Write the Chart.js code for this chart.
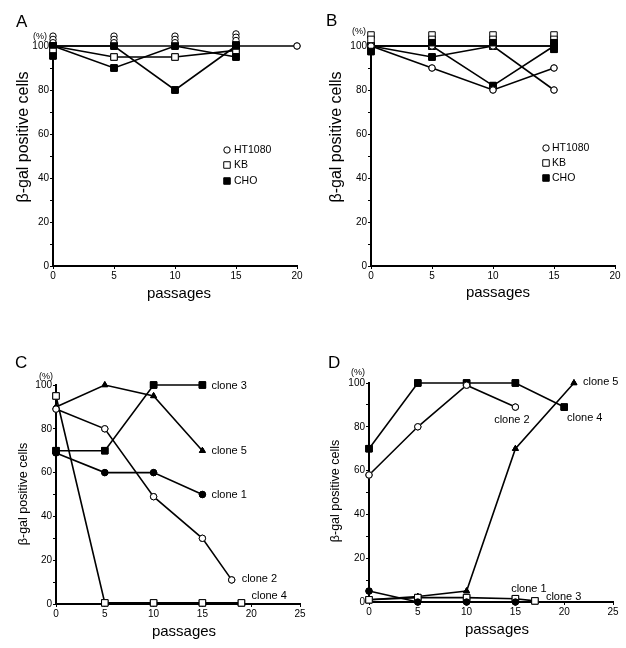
<!DOCTYPE html>
<html><head><meta charset="utf-8">
<script src="https://cdn.jsdelivr.net/npm/chart.js@4.4.1/dist/chart.umd.min.js"></script>
<style>
html,body{margin:0;padding:0;background:#fff;}
#wrap{position:relative;width:626px;height:648px;overflow:hidden;background:#fff;}
canvas{position:absolute;}
</style></head><body>
<div id="wrap">
<canvas id="cA" width="313" height="310" style="left:0;top:0"></canvas>
<canvas id="cB" width="313" height="310" style="left:313px;top:0"></canvas>
<canvas id="cC" width="313" height="328" style="left:0;top:320px"></canvas>
<canvas id="cD" width="313" height="328" style="left:313px;top:320px"></canvas>
</div>
<script>
const FONT = '"Liberation Sans", Arial, Helvetica, sans-serif';

// ---------- Panel A data ----------
const passagesA = [0, 5, 10, 15];
const aHT1080_x = [0, 5, 10, 15, 20];
const aHT1080_y = [100, 100, 100, 100, 100];
const aKB_y = [100, 95, 95, 98];
const aCHO1_y = [100, 90, 100, 95];
const aCHO2_y = [100, 100, 80, 100];
const aHT1080_reps = [[104.5, 103, 101.5], [104.5, 103, 101.5], [104.5, 103, 101.5], [105.5, 104, 102.5]];
const aKB_reps = [[97.5], [], [], []];
const aCHO_reps = [[95.5], [], [], [100.5]];

// ---------- Panel B data ----------
const passagesB = [0, 5, 10, 15];
const bKB_y = [100, 100, 100, 100];
const bHT1_y = [100, 90, 80, 90];
const bHT2_y = [100, 100, 100, 80];
const bCHO1_y = [100, 95, 100, 100];
const bCHO2_y = [100, 100, 82, 100];
const bKB_reps = [[105, 103], [105, 103], [105, 103], [105, 103]];
const bCHO_reps = [[97.5], [101.5], [101.5], [101.5, 98.5]];

// ---------- Panel C data ----------
const cClone1_x = [0, 5, 10, 15];       const cClone1_y = [69, 60, 60, 50];
const cClone2_x = [0, 5, 10, 15, 18];   const cClone2_y = [89, 80, 49, 30, 11];
const cClone3_x = [0, 5, 10, 15];       const cClone3_y = [70, 70, 100, 100];
const cClone4_x = [0, 5, 10, 15, 19];   const cClone4_y = [95, 0.5, 0.5, 0.5, 0.5];
const cClone5_x = [0, 5, 10, 15];       const cClone5_y = [90, 100, 95, 70];

// ---------- Panel D data ----------
const dClone1_x = [0, 5, 10, 15];       const dClone1_y = [5, 0, 0, 0];
const dClone2_x = [0, 5, 10, 15];       const dClone2_y = [58, 80, 99, 89];
const dClone3_x = [0, 5, 10, 15, 17];   const dClone3_y = [1, 2, 2, 1.5, 0.5];
const dClone4_x = [0, 5, 10, 15, 20];   const dClone4_y = [70, 100, 100, 100, 89];
const dClone5_x = [0, 5, 10, 15, 21];   const dClone5_y = [1, 2.5, 5, 70, 100];

// ---------- tick labels ----------
const yTickLabels = [0, 20, 40, 60, 80, 100];
const xTicksAB = [0, 5, 10, 15, 20];
const xTicksCD = [0, 5, 10, 15, 20, 25];

function pts(xs, ys) { return xs.map((x, i) => ({ x: x, y: ys[i] })); }
function repPts(xs, reps) {
  const out = [];
  xs.forEach((x, i) => reps[i].forEach(v => out.push({ x: x, y: v })));
  return out;
}

const STY = {
  openCircle: { pointStyle: 'circle', pointRadius: 3.2, pointBackgroundColor: '#fff' },
  filledCircle: { pointStyle: 'circle', pointRadius: 3.2, pointBackgroundColor: '#000' },
  openSquare: { pointStyle: 'rect', pointRadius: 4.6, pointBackgroundColor: '#fff' },
  filledSquare: { pointStyle: 'rect', pointRadius: 4.6, pointBackgroundColor: '#000' },
  filledTri: { pointStyle: 'triangle', pointRadius: 3.4, pointBackgroundColor: '#000' }
};

function ds(data, sty, line) {
  return Object.assign({
    data: data, showLine: line, borderColor: '#000', borderWidth: 1.6,
    pointBorderColor: '#000', pointBorderWidth: 1, clip: false, tension: 0
  }, sty);
}

// redraw every point without the chart-area cut-off so that stacked replicate
// markers above 100 % stay visible; markers end up on top of the lines
const markerPlugin = {
  id: 'markersOnTop',
  afterDatasetsDraw(chart) {
    const big = { left: -1e5, top: -1e5, right: 1e5, bottom: 1e5 };
    const ctx = chart.ctx;
    for (let i = chart.data.datasets.length - 1; i >= 0; i--) {
      const meta = chart.getDatasetMeta(i);
      meta.data.forEach(el => el.draw(ctx, big));
    }
  }
};

const textPlugin = {
  id: 'panelText',
  afterDraw(chart, args, o) {
    const ctx = chart.ctx;
    const xs = chart.scales.x, ys = chart.scales.y;
    ctx.save();
    ctx.fillStyle = '#000';
    ctx.strokeStyle = '#000';
    ctx.font = o.letterSize + 'px ' + FONT;
    ctx.textAlign = 'left'; ctx.textBaseline = 'alphabetic';
    ctx.fillText(o.letter, o.letterPos[0], o.letterPos[1]);
    ctx.font = '9px ' + FONT;
    ctx.textBaseline = 'middle';
    ctx.fillText('(%)', o.pctPos[0], o.pctPos[1]);
    ctx.font = o.xTitleSize + 'px ' + FONT;
    ctx.textAlign = 'center';
    ctx.fillText('passages', o.xTitlePos[0], o.xTitlePos[1]);
    ctx.save();
    ctx.translate(o.yTitlePos[0], o.yTitlePos[1]);
    ctx.rotate(-Math.PI / 2);
    ctx.font = o.yTitleSize + 'px ' + FONT;
    ctx.fillText('\u03b2-gal positive cells', 0, 0);
    ctx.restore();
    if (o.legend) {
      o.legend.items.forEach((it, i) => {
        const y = o.legend.y[i];
        ctx.fillStyle = it.fill; ctx.strokeStyle = '#000'; ctx.lineWidth = 1;
        Chart.helpers.drawPoint(ctx, { pointStyle: it.style, radius: it.r, rotation: 0, borderWidth: 1 }, o.legend.mx, y);
        ctx.fillStyle = '#000';
        ctx.font = '10.5px ' + FONT;
        ctx.textAlign = 'left'; ctx.textBaseline = 'middle';
        ctx.fillText(it.text, o.legend.tx, y);
      });
    }
    if (o.labels) {
      ctx.font = '11px ' + FONT;
      ctx.textBaseline = 'middle';
      o.labels.forEach(l => {
        ctx.textAlign = l.align;
        ctx.fillText(l.text, xs.getPixelForValue(l.at[0]) + l.dx, ys.getPixelForValue(l.at[1]) + l.dy);
      });
    }
    ctx.restore();
  }
};

function makeChart(id, datasets, geo, xmax, xTicks, textOpts) {
  const tickFont = { size: 10, family: FONT };
  return new Chart(document.getElementById(id), {
    type: 'scatter',
    data: { datasets: datasets },
    plugins: [markerPlugin, textPlugin],
    options: {
      responsive: false, animation: false, devicePixelRatio: 1,
      layout: { autoPadding: false, padding: { top: geo.top, right: geo.right, left: 0, bottom: 0 } },
      plugins: { legend: { display: false }, tooltip: { enabled: false }, panelText: textOpts },
      scales: {
        x: {
          type: 'linear', min: 0, max: xmax,
          afterFit(s) { s.height = geo.xh; },
          afterBuildTicks(s) { s.ticks = xTicks.map(v => ({ value: v })); },
          ticks: { color: '#000', font: tickFont, padding: 1, maxRotation: 0, autoSkip: false },
          grid: { drawOnChartArea: false, drawTicks: true, tickLength: 3, color: '#000', lineWidth: 1 },
          border: { display: true, color: '#000', width: 2 }
        },
        y: {
          min: 0, max: 100,
          afterFit(s) { s.width = geo.yw; },
          afterBuildTicks(s) {
            const t = [];
            for (let v = 0; v <= 100; v += 10) t.push({ value: v });
            s.ticks = t;
          },
          ticks: {
            color: '#000', font: tickFont, padding: 1, autoSkip: false,
            callback: v => (yTickLabels.indexOf(v) >= 0 ? String(v) : '')
          },
          grid: { drawOnChartArea: false, drawTicks: true, tickLength: 3, color: '#000', lineWidth: 1 },
          border: { display: true, color: '#000', width: 2 }
        }
      }
    }
  });
}

// ---------- Panel A ----------
makeChart('cA', [
  ds(repPts(passagesA, aCHO_reps), STY.filledSquare, false),
  ds(repPts(passagesA, aKB_reps), STY.openSquare, false),
  ds(pts(passagesA, aCHO2_y), STY.filledSquare, true),
  ds(pts(passagesA, aCHO1_y), STY.filledSquare, true),
  ds(pts(passagesA, aKB_y), STY.openSquare, true),
  ds(repPts(passagesA, aHT1080_reps), STY.openCircle, false),
  ds(pts(aHT1080_x, aHT1080_y), STY.openCircle, true)
], { top: 46, right: 16, xh: 44, yw: 53 }, 20, xTicksAB, {
  letter: 'A', letterSize: 17, letterPos: [16, 27], pctPos: [33, 37],
  xTitleSize: 15, xTitlePos: [179, 294], yTitleSize: 16, yTitlePos: [24, 137],
  legend: { mx: 227, tx: 234, y: [150, 165, 181], items: [
    { text: 'HT1080', style: 'circle', r: 3.2, fill: '#fff' },
    { text: 'KB', style: 'rect', r: 4.6, fill: '#fff' },
    { text: 'CHO', style: 'rect', r: 4.6, fill: '#000' }] }
});

// ---------- Panel B ----------
makeChart('cB', [
  ds(repPts(passagesB, bCHO_reps), STY.filledSquare, false),
  ds(repPts(passagesB, bKB_reps), STY.openSquare, false),
  ds(pts(passagesB, bHT1_y), STY.openCircle, true),
  ds(pts(passagesB, bHT2_y), STY.openCircle, true),
  ds(pts(passagesB, bCHO2_y), STY.filledSquare, true),
  ds(pts(passagesB, bCHO1_y), STY.filledSquare, true),
  ds(pts(passagesB, bKB_y), STY.openSquare, true)
], { top: 46, right: 11, xh: 44, yw: 58 }, 20, xTicksAB, {
  letter: 'B', letterSize: 17, letterPos: [13, 26], pctPos: [39, 32],
  xTitleSize: 15, xTitlePos: [185, 293], yTitleSize: 16, yTitlePos: [24, 137],
  legend: { mx: 233, tx: 239, y: [148, 163, 178], items: [
    { text: 'HT1080', style: 'circle', r: 3.2, fill: '#fff' },
    { text: 'KB', style: 'rect', r: 4.6, fill: '#fff' },
    { text: 'CHO', style: 'rect', r: 4.6, fill: '#000' }] }
});

// ---------- Panel C ----------
makeChart('cC', [
  ds(pts(cClone4_x, cClone4_y), STY.openSquare, true),
  ds(pts(cClone2_x, cClone2_y), STY.openCircle, true),
  ds(pts(cClone3_x, cClone3_y), STY.filledSquare, true),
  ds(pts(cClone1_x, cClone1_y), STY.filledCircle, true),
  ds(pts(cClone5_x, cClone5_y), STY.filledTri, true)
], { top: 65, right: 13, xh: 44, yw: 56 }, 25, xTicksCD, {
  letter: 'C', letterSize: 17, letterPos: [15, 48], pctPos: [39, 57],
  xTitleSize: 15, xTitlePos: [184, 312], yTitleSize: 12.5, yTitlePos: [24, 174],
  labels: [
    { text: 'clone 3', at: [15, 100], dx: 9, dy: 1, align: 'left' },
    { text: 'clone 5', at: [15, 70], dx: 9, dy: 0, align: 'left' },
    { text: 'clone 1', at: [15, 50], dx: 9, dy: 0, align: 'left' },
    { text: 'clone 2', at: [18, 11], dx: 10, dy: -1, align: 'left' },
    { text: 'clone 4', at: [19, 0.5], dx: 10, dy: -7, align: 'left' }
  ]
});

// ---------- Panel D ----------
makeChart('cD', [
  ds(pts(dClone2_x, dClone2_y), STY.openCircle, true),
  ds(pts(dClone4_x, dClone4_y), STY.filledSquare, true),
  ds(pts(dClone1_x, dClone1_y), STY.filledCircle, true),
  ds(pts(dClone3_x, dClone3_y), STY.openSquare, true),
  ds(pts(dClone5_x, dClone5_y), STY.filledTri, true)
], { top: 63, right: 13, xh: 46, yw: 56 }, 25, xTicksCD, {
  letter: 'D', letterSize: 17, letterPos: [15, 48], pctPos: [38, 53],
  xTitleSize: 15, xTitlePos: [184, 310], yTitleSize: 12.5, yTitlePos: [23, 171],
  labels: [
    { text: 'clone 5', at: [21, 100], dx: 9, dy: -1, align: 'left' },
    { text: 'clone 2', at: [15, 89], dx: -3.5, dy: 13, align: 'center' },
    { text: 'clone 4', at: [20, 89], dx: 20.5, dy: 10.5, align: 'center' },
    { text: 'clone 1', at: [15, 1.5], dx: 13.5, dy: -10, align: 'center' },
    { text: 'clone 3', at: [17, 0.5], dx: 11, dy: -4, align: 'left' }
  ]
});
</script>
</body></html>
